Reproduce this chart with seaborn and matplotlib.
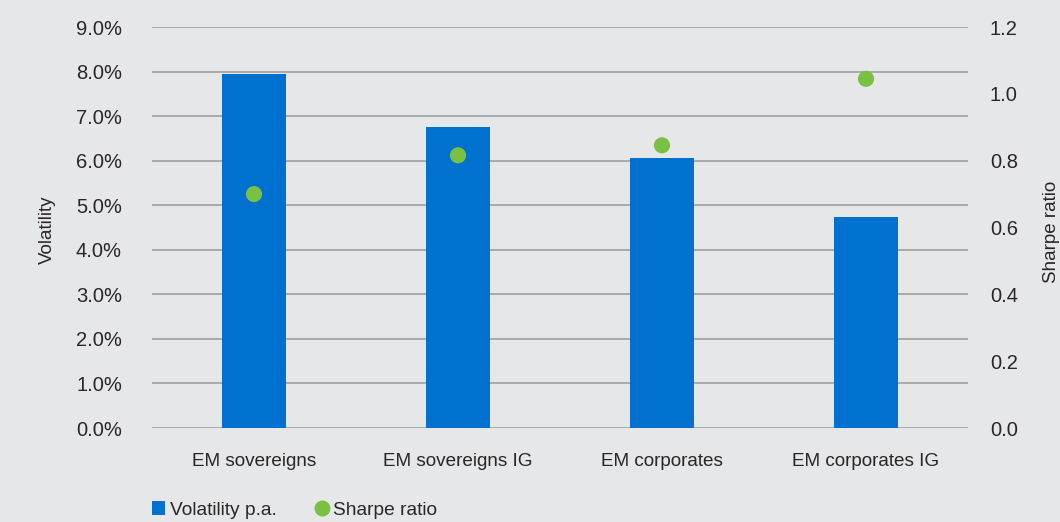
import matplotlib
matplotlib.use("Agg")
import matplotlib.pyplot as plt
from matplotlib.lines import Line2D
from matplotlib.patches import Patch
from matplotlib.ticker import FuncFormatter, MultipleLocator
import pandas as pd
import seaborn as sns

categories = ["EM sovereigns", "EM sovereigns IG", "EM corporates", "EM corporates IG"]
volatility = [7.94, 6.75, 6.06, 4.73]   # % p.a.
sharpe = [0.70, 0.816, 0.846, 1.045]

BG = "#e6e7e8"
BLUE = "#0071ce"
GREEN = "#7ac143"
GRID = "#a9aaac"
TEXT = "#2a2627"

sns.set_theme(style="white")
plt.rcParams["font.family"] = ["Liberation Sans", "DejaVu Sans"]

df = pd.DataFrame({"category": categories, "volatility": volatility, "sharpe": sharpe})

W, H = 1060, 522
fig = plt.figure(figsize=(W / 100, H / 100), dpi=100, facecolor=BG)
ax = fig.add_axes([152 / W, (H - 428) / H, (968 - 152) / W, (428 - 27) / H])
ax.set_facecolor(BG)

sns.barplot(data=df, x="category", y="volatility", color=BLUE, width=0.314,
            saturation=1, linewidth=0, ax=ax, zorder=3)
ax.set_ylim(0, 9)
ax.set_xlim(-0.5, 3.5)
ax.yaxis.set_major_locator(MultipleLocator(1))
ax.yaxis.set_major_formatter(FuncFormatter(lambda v, _: f"{v:.1f}%"))
ax.grid(axis="y", color=GRID, linewidth=1.4, zorder=0)
ax.set_axisbelow(True)
ax.set_xlabel("")
ax.set_ylabel("")
ax.tick_params(axis="y", length=0, pad=21.6, labelsize=14.5, labelcolor=TEXT)
ax.tick_params(axis="x", length=0, pad=18, labelsize=13.6, labelcolor=TEXT)
for s in ax.spines.values():
    s.set_visible(False)

ax2 = ax.twinx()
sns.scatterplot(data=df, x="category", y="sharpe", color=GREEN, s=135,
                edgecolor="none", ax=ax2, zorder=4, legend=False)
ax2.set_ylim(0, 1.2)
ax2.set_xlim(-0.5, 3.5)
ax2.yaxis.set_major_locator(MultipleLocator(0.2))
ax2.yaxis.set_major_formatter(FuncFormatter(lambda v, _: f"{v:.1f}"))
ax2.set_ylabel("")
ax2.tick_params(axis="y", length=0, pad=15.8, labelsize=14.5, labelcolor=TEXT)
for s in ax2.spines.values():
    s.set_visible(False)

# axis titles
fig.text(47 / W, 1 - 230 / H, "Volatility", rotation=90, ha="center", va="center",
         fontsize=13.5, color=TEXT)
fig.text(1051 / W, 1 - 232 / H, "Sharpe ratio", rotation=90, ha="center", va="center",
         fontsize=13.5, color=TEXT)

handles = [
    Patch(facecolor=BLUE, edgecolor="none", label="Volatility p.a."),
    Line2D([0], [0], marker="o", linestyle="none", markerfacecolor=GREEN,
           markeredgecolor="none", markersize=11.5, label="Sharpe ratio"),
]
fig.legend(handles=handles, loc="center left", bbox_to_anchor=(152 / W, 1 - 510 / H),
           borderaxespad=0, borderpad=0, ncol=2, frameon=False, fontsize=13.8,
           handlelength=0.68, handleheight=0.68, handletextpad=0.26,
           columnspacing=2.0, labelcolor=TEXT)

fig.savefig("out.png", dpi=100, facecolor=BG)
